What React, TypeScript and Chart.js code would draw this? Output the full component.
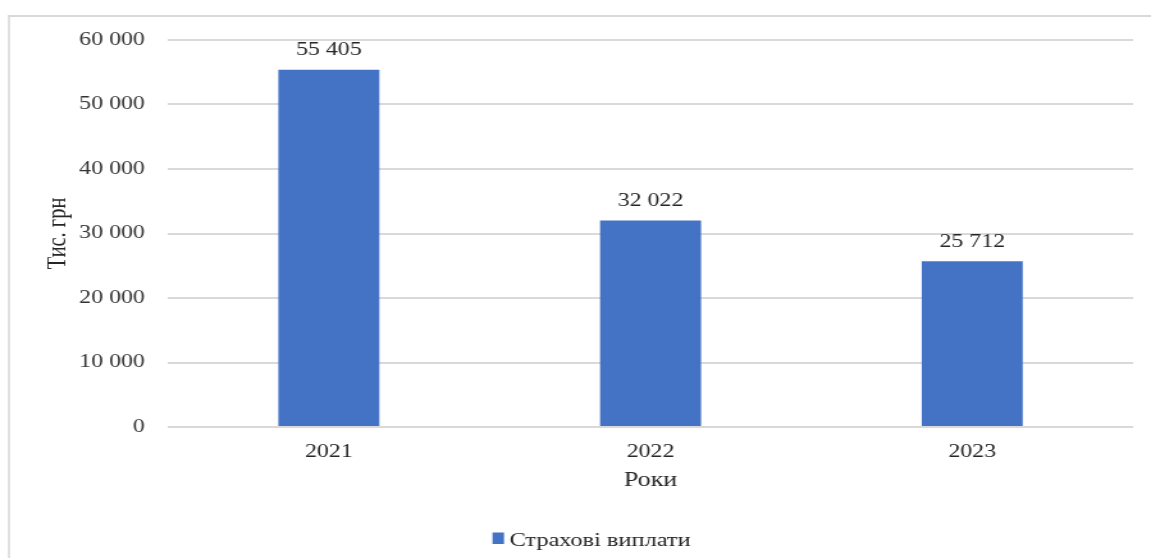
import React, { useEffect, useRef } from "react";
import { Chart, registerables } from "chart.js";

Chart.register(...registerables);

// Series data
const years: string[] = ["2021", "2022", "2023"];
const payouts: number[] = [55405, 32022, 25712];
const seriesName = "Страхові виплати";
const yAxisTitle = "Тис. грн";
const xAxisTitle = "Роки";
const yMin = 0;
const yMax = 60000;
const yStep = 10000;

// Canvas is drawn narrower and displayed wider (horizontally stretched layout)
const VIEW_W = 1151;
const VIEW_H = 558;
const CANVAS_W = 899;
const SX = VIEW_W / CANVAS_W;

const SERIF = "'Liberation Serif', 'Times New Roman', serif";
const BAR_BLUE = "#4472C4";
const GRID = "#d9d9d9";
const TEXT = "#262626";
const TICK_SIZE = 18.7;

const fmt = (v: number) =>
  Math.round(v)
    .toString()
    .replace(/\B(?=(\d{3})+(?!\d))/g, " ");

// Light frame around the chart (top and left edges are visible)
const framePlugin = {
  id: "frame",
  beforeDraw(chart: any) {
    const { ctx, width, height } = chart;
    ctx.save();
    ctx.fillStyle = "#ffffff";
    ctx.fillRect(0, 0, width, height);
    ctx.fillStyle = GRID;
    ctx.fillRect(8 / SX, 15, width, 2);
    ctx.fillRect(8 / SX, 15, 2 / SX, height);
    ctx.restore();
  },
};

// Value labels above each bar
const valueLabelPlugin = {
  id: "valueLabels",
  afterDatasetsDraw(chart: any) {
    const { ctx } = chart;
    const meta = chart.getDatasetMeta(0);
    const values = chart.data.datasets[0].data as number[];
    ctx.save();
    ctx.font = `${TICK_SIZE}px ${SERIF}`;
    ctx.fillStyle = TEXT;
    ctx.textAlign = "center";
    ctx.textBaseline = "middle";
    meta.data.forEach((bar: any, i: number) => {
      ctx.fillText(fmt(values[i]), bar.x, bar.y - 19.5);
    });
    ctx.restore();
  },
};

// Single-entry legend centred under the plot
const legendPlugin = {
  id: "bottomLegend",
  afterDraw(chart: any) {
    const { ctx } = chart;
    const ds = chart.data.datasets[0];
    ctx.save();
    ctx.fillStyle = ds.backgroundColor;
    ctx.fillRect(492.5 / SX, 532.5, 11.5 / SX, 11.5);
    ctx.font = `19px ${SERIF}`;
    ctx.fillStyle = TEXT;
    ctx.textAlign = "left";
    ctx.textBaseline = "alphabetic";
    ctx.fillText(ds.label, 509.5 / SX, 545.5);
    ctx.restore();
  },
};

export default function App() {
  const canvasRef = useRef<HTMLCanvasElement | null>(null);

  useEffect(() => {
    if (!canvasRef.current) return;
    const chart = new Chart(canvasRef.current, {
      type: "bar",
      data: {
        labels: years,
        datasets: [
          {
            label: seriesName,
            data: payouts,
            backgroundColor: BAR_BLUE,
            borderWidth: 0,
            barPercentage: 1,
            categoryPercentage: 0.314,
          },
        ],
      },
      plugins: [framePlugin, valueLabelPlugin, legendPlugin],
      options: {
        responsive: false,
        animation: false,
        devicePixelRatio: 1,
        layout: {
          padding: { left: 0, top: 40, right: 14, bottom: 38.75 },
        },
        plugins: {
          tooltip: { enabled: false },
          legend: { display: false },
        },
        scales: {
          x: {
            grid: { display: false, drawTicks: false },
            border: { display: false },
            ticks: {
              color: TEXT,
              font: { family: SERIF, size: TICK_SIZE },
              padding: 13.8,
            },
            title: {
              display: true,
              text: xAxisTitle,
              color: TEXT,
              font: { family: SERIF, size: 20.4 },
              padding: { top: 0, bottom: 26 },
            },
            afterFit(scale: any) {
              scale.height = 92.25;
            },
          },
          y: {
            min: yMin,
            max: yMax,
            grid: { color: GRID, lineWidth: 2, drawTicks: false },
            border: { display: false },
            ticks: {
              stepSize: yStep,
              color: "#333333",
              font: { family: SERIF, size: TICK_SIZE },
              padding: 18,
              callback: (v: any) => fmt(Number(v)),
            },
            title: {
              display: true,
              text: yAxisTitle,
              color: TEXT,
              font: { family: SERIF, size: 20.4 },
              padding: { top: 33.06, bottom: 0 },
            },
            afterFit(scale: any) {
              scale.width = 168 / SX;
            },
          },
        },
      },
    });
    return () => chart.destroy();
  }, []);

  return (
    <div style={{ position: "absolute", left: 0, top: 0, width: VIEW_W, height: VIEW_H }}>
      <canvas
        ref={canvasRef}
        width={CANVAS_W}
        height={VIEW_H}
        style={{ width: `${VIEW_W}px`, height: `${VIEW_H}px`, display: "block" }}
      />
    </div>
  );
}
